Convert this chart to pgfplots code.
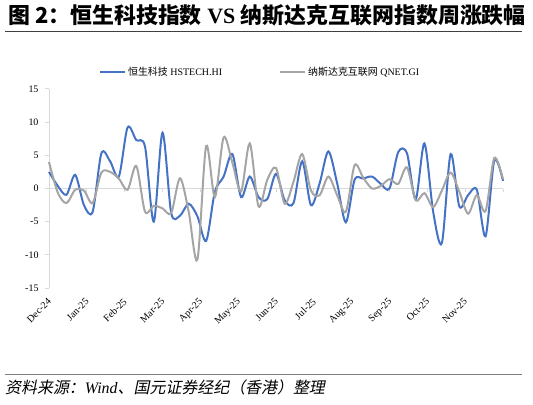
\documentclass[border=0pt]{standalone}
\usepackage{pgfplots}
\pgfplotsset{compat=1.18}
\usepackage{pgfplotstable}
\usepackage{fontspec}
\setmainfont{Liberation Serif}
\newfontfamily\cjk{Noto Sans CJK SC}
\newfontfamily\cjkit{Noto Sans CJK SC}[FakeSlant=0.2]
\definecolor{hsblue}{HTML}{4472C4}
\definecolor{qgray}{HTML}{A5A5A5}
\definecolor{axgray}{HTML}{D9D9D9}

% weekly change (%), week index from early Dec-24
\pgfplotstableread{
k hs qn
0 2.5 4.0
1 0.4 -0.6
2 -0.95 -2.2
3 2.05 -0.2
4 -2.5 -0.3
5 -3.5 -2.2
6 5.3 2.4
7 4.1 2.5
8 1.8 1.5
9 9.2 -0.2
10 7.3 3.4
11 6.3 -3.5
12 -5.0 -2.6
13 8.4 -3.0
14 -3.7 -3.7
15 -4.1 1.55
16 -2.3 -3.5
17 -4.2 -10.7
18 -7.9 6.4
19 -0.5 -1.3
20 1.8 7.7
21 5.2 3.9
22 -1.3 -0.45
23 1.8 6.8
24 -1.3 -2.7
25 -1.6 1.3
26 2.2 3.1
27 -1.8 -2.3
28 -2.2 1.0
29 4.1 5.2
30 -2.5 -0.3
31 0.8 -1.0
32 5.6 1.8
33 0.8 -1.0
34 -5.1 -3.5
35 1.3 3.5
36 1.5 1.6
37 1.8 0.0
38 0.7 0.4
39 0.0 1.4
40 5.5 0.7
41 5.3 3.2
42 -1.6 -1.8
43 6.8 -0.7
44 -3.5 -2.8
45 -8.2 -0.3
46 5.2 2.4
47 -2.7 -0.5
48 -1.0 -3.8
49 -0.2 -1.0
50 -7.2 -3.4
51 4.2 4.6
52 1.15 1.4
}\weekly

\begin{document}
\begin{tikzpicture}[x=1bp,y=1bp]
\path[use as bounding box] (0,0) rectangle (533,404);
\node[anchor=base west, inner sep=0, font=\fontsize{22}{22}\selectfont\bfseries] at (8,381)
  {{\cjk 图 2：恒生科技指数} VS {\cjk 纳斯达克互联网指数周涨跌幅}};
\draw[line width=1.5bp, black!75] (5,372.5) -- (522,372.5);

\begin{axis}[
  at={(49bp,116bp)}, anchor=south west,
  scale only axis, width=454bp, height=199bp,
  xmin=0, xmax=52, ymin=-15, ymax=15,
  ytick={-15,-10,...,15},
  xtick={0,4.333,8.667,13,17.333,21.667,26,30.333,34.667,39,43.333,47.667},
  xticklabels={Dec-24,Jan-25,Feb-25,Mar-25,Apr-25,May-25,Jun-25,Jul-25,Aug-25,Sep-25,Oct-25,Nov-25},
  axis y line*=left, axis x line*=bottom,
  axis line style={-},
  x axis line style={draw=none},
  y axis line style={axgray, line width=1bp},
  xtick style={draw=none},
  ytick style={axgray, line width=1bp},
  tick align=outside, major tick length=4bp,
  /pgf/number format/assume math mode=true,
  ticklabel style={font=\fontsize{10}{12}\selectfont},
  yticklabel style={xshift=-3bp},
  xticklabel style={rotate=45, anchor=north east, xshift=-2bp, yshift=1bp},
  legend style={at={(0.465,1.085)}, anchor=center, draw=none, fill=none,
    font=\fontsize{10}{12}\selectfont,
    /tikz/every even column/.append style={column sep=55bp}},
  legend columns=2,
  legend image code/.code={\draw[#1, line width=2bp] (0bp,0bp) -- (25bp,0bp);},
  clip=false,
]
\draw[axgray, line width=1.2bp] (axis cs:0,0) -- (axis cs:52,0);
\pgfplotsinvokeforeach{0,4.333,8.667,13,17.333,21.667,26,30.333,34.667,39,43.333,47.667,52}{
  \draw[axgray, line width=1bp] (axis cs:#1,0) -- ++(0bp,-3bp);
}
\addplot[hsblue, line width=2bp, smooth, tension=0.5] table[x=k, y=hs] {\weekly};
\addlegendentry{{\cjk 恒生科技} HSTECH.HI}
\addplot[qgray, line width=2bp, smooth, tension=0.5] table[x=k, y=qn] {\weekly};
\addlegendentry{{\cjk 纳斯达克互联网} QNET.GI}
\end{axis}

\draw[line width=1.5bp, black!50] (5,29.3) -- (522,29.3);
\node[anchor=base west, inner sep=0, font=\fontsize{16}{16}\selectfont] at (5,11)
  {{\cjkit 资料来源：}\textit{Wind}{\cjkit 、国元证券经纪（香港）整理}};
\end{tikzpicture}
\end{document}
